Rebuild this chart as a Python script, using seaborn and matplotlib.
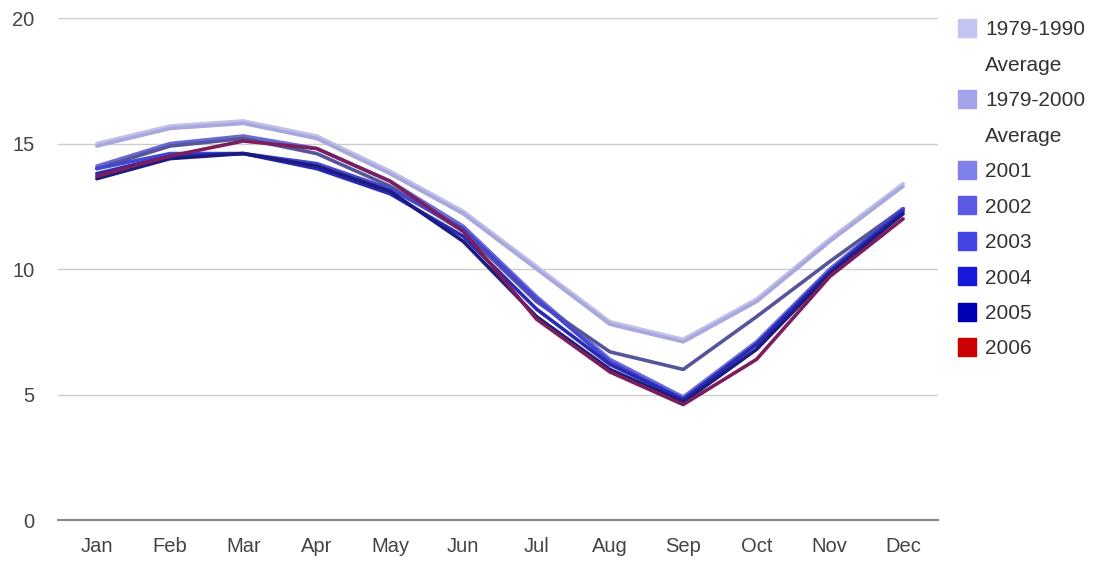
import pandas as pd
import matplotlib.pyplot as plt
from matplotlib.lines import Line2D
import seaborn as sns

months = ["Jan", "Feb", "Mar", "Apr", "May", "Jun", "Jul", "Aug", "Sep", "Oct", "Nov", "Dec"]

avg_1979_1990 = [15.0, 15.7, 15.9, 15.3, 13.9, 12.3, 10.1, 7.9, 7.2, 8.8, 11.2, 13.4]
avg_1979_2000 = [14.9, 15.6, 15.8, 15.2, 13.8, 12.2, 10.0, 7.8, 7.1, 8.7, 11.1, 13.3]
y2001 = [14.1, 15.0, 15.3, 14.8, 13.5, 11.7, 8.9, 6.4, 4.9, 7.1, 10.0, 12.4]
y2002 = [14.0, 14.9, 15.2, 14.6, 13.3, 11.5, 8.7, 6.7, 6.0, 8.1, 10.3, 12.4]
y2003 = [14.0, 14.6, 14.6, 14.2, 13.2, 11.6, 8.8, 6.3, 4.8, 7.0, 9.9, 12.4]
y2004 = [13.8, 14.5, 14.6, 14.0, 13.0, 11.3, 8.4, 6.2, 4.8, 7.0, 9.9, 12.3]
y2005 = [13.6, 14.4, 14.6, 14.1, 13.1, 11.1, 8.1, 6.0, 4.7, 6.8, 9.8, 12.2]
y2006 = [13.7, 14.5, 15.1, 14.8, 13.5, 11.5, 8.0, 5.9, 4.6, 6.4, 9.7, 12.0]

series_names = ["1979-1990 Average", "1979-2000 Average", "2001", "2002", "2003", "2004", "2005", "2006"]
series_values = [avg_1979_1990, avg_1979_2000, y2001, y2002, y2003, y2004, y2005, y2006]
colors = ["#c4c4f2", "#a4a4ec", "#8080ea", "#5a5ae4", "#4444e0", "#1818dc", "#0000b4", "#cc0000"]
line_colors = ["#c0c0e8", "#a8a8dc", "#6a6ad8", "#55559a", "#4646d0", "#2a2ab8", "#1c1c80", "#7a1e5e"]

rows = []
for name, vals in zip(series_names, series_values):
    for i, v in enumerate(vals):
        rows.append({"series": name, "month": i, "extent": v})
df = pd.DataFrame(rows)

sns.set_style("white")
plt.rcParams["font.family"] = ["Liberation Sans", "DejaVu Sans"]

fig = plt.figure(figsize=(10.94, 5.65), dpi=100)
ax = fig.add_axes([0.053, 0.0796, 0.804, 0.8885])

sns.lineplot(data=df, x="month", y="extent", hue="series", hue_order=series_names,
             palette=dict(zip(series_names, line_colors)), linewidth=2.6,
             legend=False, ax=ax, sort=False)
for ln in ax.get_lines():
    ln.set_solid_joinstyle("round")
    ln.set_solid_capstyle("round")

ax.set_xlim(-0.53, 11.47)
ax.set_ylim(0, 20)
ax.set_yticks([0, 5, 10, 15, 20])
ax.set_xticks(range(12))
ax.set_xticklabels(months)
ax.set_xlabel("")
ax.set_ylabel("")
ax.grid(axis="y", color="#cccccc", linewidth=1)
ax.set_axisbelow(True)
for s in ["top", "right", "left"]:
    ax.spines[s].set_visible(False)
ax.spines["bottom"].set_color("#888888")
ax.spines["bottom"].set_linewidth(1.5)
ax.tick_params(axis="both", length=0, labelsize=14.5, colors="#444444")
ax.tick_params(axis="x", pad=12)
ax.tick_params(axis="y", pad=17)

# legend: swatch on first line, "Average" on its own row without a swatch
handles, labels = [], []
for name, c in zip(series_names, colors):
    parts = name.split(" ")
    handles.append(Line2D([0], [0], marker="s", color="none", markerfacecolor=c,
                          markeredgecolor=c, markersize=13))
    labels.append(parts[0])
    if len(parts) > 1:
        handles.append(Line2D([0], [0], color="none"))
        labels.append(parts[1])

fig.legend(handles, labels, loc="upper left", bbox_to_anchor=(0.874, 0.964),
           frameon=False, fontsize=15, labelspacing=0.79, handlelength=1.0,
           handletextpad=0.4, borderpad=0, borderaxespad=0, labelcolor="#333333")

plt.savefig("out.png", dpi=100)
